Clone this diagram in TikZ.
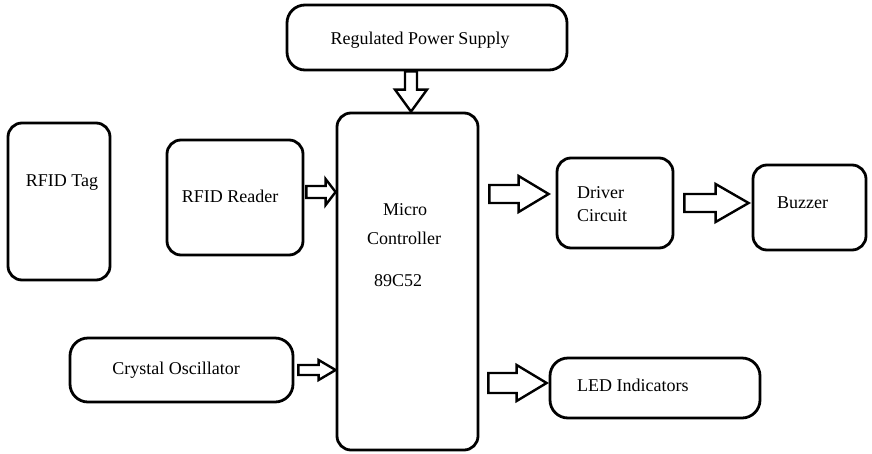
\documentclass[tikz,border=0pt]{standalone}
\usepackage{fontspec}
\setmainfont{Liberation Serif}
\usetikzlibrary{calc}
\tikzset{
  box/.style={draw, line width=2.8pt, rounded corners=14pt, inner sep=0pt},
  pill/.style={box, rounded corners=18pt},
  txt/.style={inner sep=0pt, font=\fontsize{18}{20}\selectfont},
  harr/.style n args={3}{line width=2.4pt, line join=miter, to path={let \p1=(\tikztostart), \p2=(\tikztotarget) in
      (\x1,\y1+#1pt) -- (\x2-#3pt,\y1+#1pt) -- (\x2-#3pt,\y1+#2pt) -- (\x2,\y1) -- (\x2-#3pt,\y1-#2pt) -- (\x2-#3pt,\y1-#1pt) -- (\x1,\y1-#1pt) -- cycle}},
  varr/.style n args={3}{line width=2.4pt, line join=miter, to path={let \p1=(\tikztostart), \p2=(\tikztotarget) in
      (\x1-#1pt,\y1) -- (\x1-#1pt,\y2+#3pt) -- (\x1-#2pt,\y2+#3pt) -- (\x1,\y2) -- (\x1+#2pt,\y2+#3pt) -- (\x1+#1pt,\y2+#3pt) -- (\x1+#1pt,\y1) -- cycle}},
}
\begin{document}
\begin{tikzpicture}[x=1pt, y=-1pt]
\useasboundingbox (0,0) rectangle (872,453);
% boxes
\node[pill, minimum width=280, minimum height=65] (rps) at (427,37.5) {};
\node[box, minimum width=141, minimum height=337] (mc) at (407.5,281.5) {};
\node[box, minimum width=102, minimum height=157] (tag) at (59,201.5) {};
\node[box, minimum width=136, minimum height=115] (reader) at (235,197.5) {};
\node[box, minimum width=116, minimum height=90] (driver) at (615,203) {};
\node[box, minimum width=113, minimum height=85] (buzzer) at (809.5,207.5) {};
\node[pill, minimum width=223, minimum height=64] (crystal) at (181.5,370) {};
\node[pill, minimum width=210, minimum height=60] (led) at (655,388) {};
% texts
\node[txt] (trps) at (420,40) {Regulated Power Supply};
\node[txt] (ttag) at (62,183) {RFID Tag};
\node[txt] (treader) at (230,196) {RFID Reader};
\node[txt] (tmc1) at (405,210) {Micro};
\node[txt] (tmc2) at (404,238) {Controller};
\node[txt] (tmc3) at (398,281) {89C52};
\node[txt, anchor=west] (tdrv1) at (577,193) {Driver};
\node[txt, anchor=west] (tdrv2) at (577,216) {Circuit};
\node[txt, anchor=west] (tbuz) at (777,203) {Buzzer};
\node[txt] (tcry) at (176,370) {Crystal Oscillator};
\node[txt, anchor=west] (tled) at (577,385) {LED Indicators};
% block arrows
\draw[varr={6}{16}{22}] ([xshift=-16pt]rps.south) to (mc.north);
\draw[harr={6}{13}{10}] ([xshift=2pt,yshift=5.5pt]reader.east) to (mc.west);
\draw[harr={5}{10}{17}] ([xshift=4pt]crystal.east) to (mc.west);
\draw[harr={9}{18}{30}] ($(mc.east |- driver.west)+(10,-9)$) to ([xshift=-7pt]driver.west);
\draw[harr={9}{19}{33}] ([xshift=10pt]driver.east) to ([xshift=-3pt]buzzer.west);
\draw[harr={10}{18}{30}] ($(mc.east |- led.west)+(9,-5)$) to ([xshift=-2pt]led.west);
\end{tikzpicture}
\end{document}
